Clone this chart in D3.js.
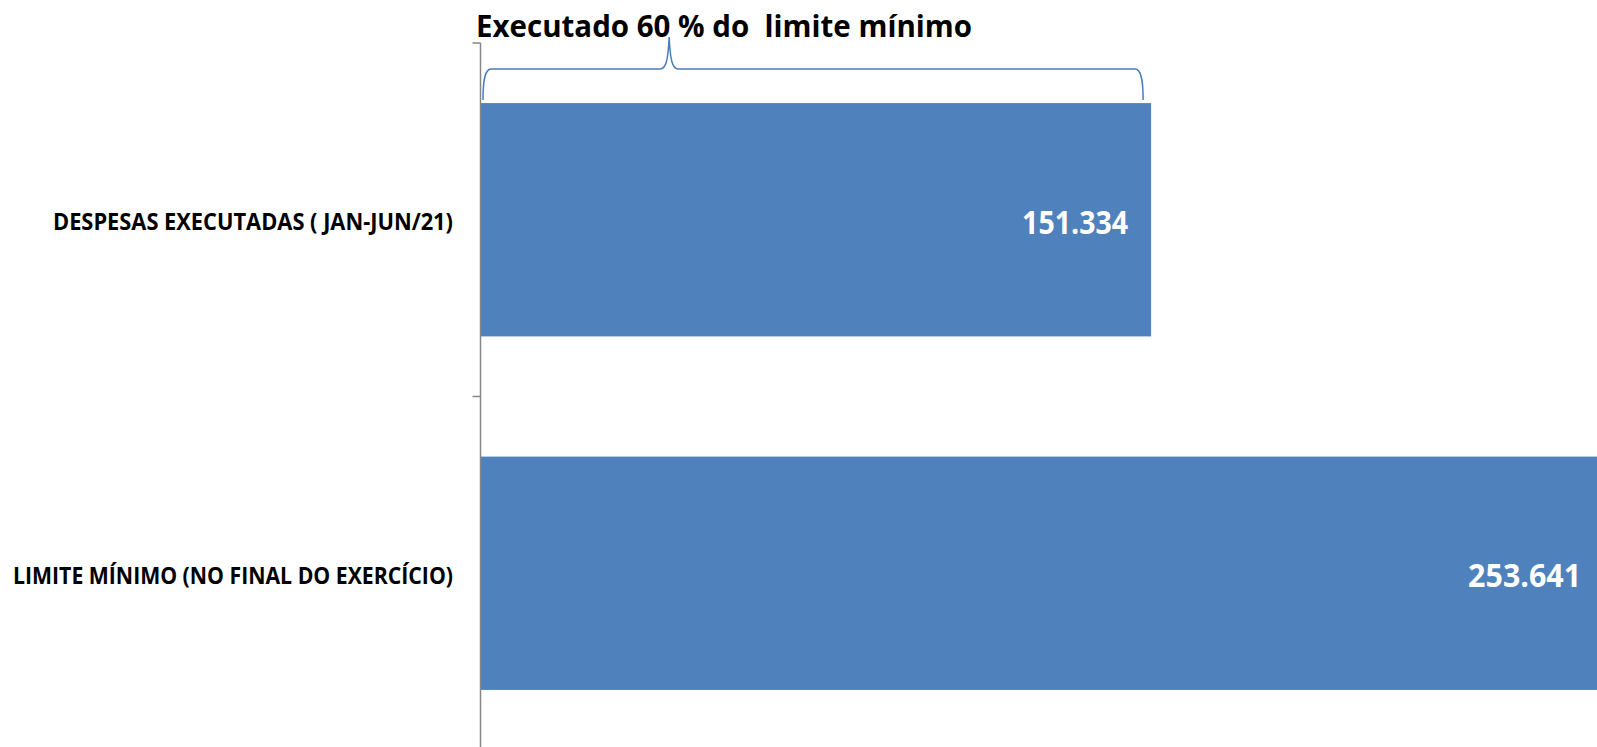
<!DOCTYPE html>
<html>
<head>
<meta charset="utf-8">
<script src="https://cdn.jsdelivr.net/npm/d3@7"></script>
<style>
  html, body { margin: 0; padding: 0; background: #fff; overflow: hidden; }
  svg { display: block; }
  text { font-family: "Open Sans", "Noto Sans", sans-serif; font-weight: bold; white-space: pre; }
</style>
</head>
<body>
<svg id="chart" width="1597" height="747"></svg>
<script>
// ---- data ----
const categories = ["DESPESAS EXECUTADAS ( JAN-JUN/21)", "LIMITE MÍNIMO (NO FINAL DO EXERCÍCIO)"];
const values = [151.334, 253.641];
const valueLabels = ["151.334", "253.641"];
const titleText = "Executado 60 % do  limite mínimo";
const xMax = 250;

// ---- layout ----
const svg = d3.select("#chart");
const x = d3.scaleLinear().domain([0, xMax]).range([481, 1588]);
const y = d3.scaleBand().domain(categories).range([43, 750]).paddingInner(0.34).paddingOuter(0.17);

const barColor = "#4F81BD";
const axisColor = "#868686";

// bars
svg.selectAll("rect.bar").data(categories).join("rect")
  .attr("class", "bar")
  .attr("x", x(0))
  .attr("y", d => y(d))
  .attr("width", (d, i) => x(values[i]) - x(0))
  .attr("height", y.bandwidth())
  .attr("fill", barColor);

// value labels
svg.selectAll("text.val").data(categories).join("text")
  .attr("class", "val")
  .attr("x", (d, i) => x(values[i]) - 23)
  .attr("y", d => y(d) + y.bandwidth() / 2 + 14)
  .attr("text-anchor", "end")
  .attr("fill", "#fff")
  .attr("font-size", 32.5)
  .attr("textLength", (d, i) => i === 0 ? 106 : 113)
  .attr("lengthAdjust", "spacingAndGlyphs")
  .text((d, i) => valueLabels[i]);

// axis line and boundary ticks
const r = y.range();
svg.append("line")
  .attr("x1", x(0) - 0.5).attr("x2", x(0) - 0.5)
  .attr("y1", r[0]).attr("y2", r[1])
  .attr("stroke", axisColor).attr("stroke-width", 1.5);
const tickYs = d3.range(categories.length + 1).map(i => r[0] + i * y.step());
svg.selectAll("line.tick").data(tickYs).join("line")
  .attr("class", "tick")
  .attr("x1", x(0) - 8.5).attr("x2", x(0) - 0.5)
  .attr("y1", d => d).attr("y2", d => d)
  .attr("stroke", axisColor).attr("stroke-width", 1.5);

// category labels
svg.selectAll("text.cat").data(categories).join("text")
  .attr("class", "cat")
  .attr("x", x(0) - 28)
  .attr("y", d => y(d) + y.bandwidth() / 2 + 10.5)
  .attr("text-anchor", "end")
  .attr("fill", "#000")
  .attr("font-size", 23.5)
  .attr("textLength", (d, i) => i === 0 ? 400 : 440)
  .attr("lengthAdjust", "spacingAndGlyphs")
  .text(d => d);

// title
svg.append("text")
  .attr("x", 476)
  .attr("y", 36.5)
  .attr("fill", "#000")
  .attr("font-size", 30.5)
  .attr("textLength", 496)
  .attr("lengthAdjust", "spacingAndGlyphs")
  .text(titleText);

// brace over first bar
const bx0 = x(0) + 2;
const bx1 = x(values[0]) - 8;
const cusp = bx0 + (bx1 - bx0) * 0.282;
const yb = 100, yh = 69, yc = 37;
const p = d3.path();
p.moveTo(bx0, yb);
p.bezierCurveTo(bx0, yb - 20, bx0 + 2, yh, bx0 + 8, yh);
p.lineTo(cusp - 9, yh);
p.bezierCurveTo(cusp - 3, yh, cusp - 1, yh - 10, cusp, yc);
p.bezierCurveTo(cusp + 1, yh - 10, cusp + 3, yh, cusp + 9, yh);
p.lineTo(bx1 - 8, yh);
p.bezierCurveTo(bx1 - 2, yh, bx1, yb - 20, bx1, yb);
svg.append("path")
  .attr("d", p.toString())
  .attr("fill", "none")
  .attr("stroke", "#4A7EBB")
  .attr("stroke-width", 1.5);
</script>
</body>
</html>
